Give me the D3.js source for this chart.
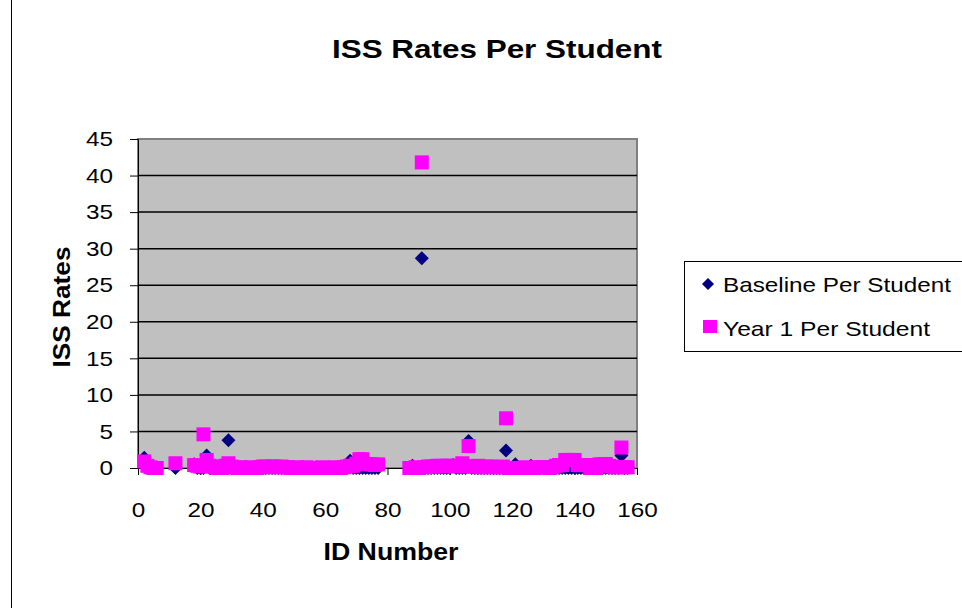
<!DOCTYPE html>
<html>
<head>
<meta charset="utf-8">
<script src="https://cdn.jsdelivr.net/npm/d3@7"></script>
<style>
  body { margin: 0; background: #fff; }
  text { font-family: Arial, "Liberation Sans", sans-serif; }
</style>
</head>
<body>
<div id="chart"></div>
<script>
// Student IDs (gaps where no students)
var ids = [2, 3, 4, 5, 6, 12,
  18, 19, 20, 21, 22, 23, 24, 25, 26, 27,
  28, 29, 30, 31, 32, 33, 34, 35, 36, 37,
  38, 39, 40, 41, 42, 43, 44, 45, 46, 47,
  48, 49, 50, 51, 52, 53, 54, 55, 56, 57,
  58, 59, 60, 61, 62, 63, 64, 65, 66, 67,
  68, 69, 70, 71, 72, 73, 74, 75, 76, 77,
  87, 88, 89, 90, 91, 92, 93, 94, 95, 96,
  97, 98, 99, 100, 101, 102, 103, 104, 105, 106,
  107, 108, 109, 110, 111, 112, 113, 114, 115, 116,
  117, 118, 119, 120, 121, 122, 123, 124, 125, 126,
  127, 128, 129, 130, 131, 132, 133, 134, 135, 136,
  137, 138, 139, 140, 141, 142, 143, 144, 145, 146,
  147, 148, 149, 150, 151, 152, 153, 154, 155, 156, 157];

var baseline = [1.4, 0, 0, 0, 0, 0,
  0.5, 0, 0, 0, 1.7, 0, 0, 0, 0, 0,
  0, 3.8, 0, 0, 0, 0, 0, 0, 0, 0,
  0, 0, 0, 0, 0, 0, 0, 0, 0, 0,
  0, 0, 0, 0, 0, 0, 0, 0, 0, 0,
  0, 0, 0, 0, 0, 0, 0, 0, 0, 0,
  1.0, 0, 0, 0, 0, 0, 0, 0, 0, 0,
  0, 0.3, 0, 0, 28.7, 0, 0, 0, 0, 0,
  0, 0, 0, 0, 0.4, 0, 0, 0, 0, 3.7,
  0, 0, 0, 0, 0, 0, 0, 0, 0, 0,
  0, 2.4, 0, 0, 0.5, 0, 0, 0, 0, 0.3,
  0, 0, 0, 0, 0, 0, 0, 0, 0, 0,
  0, 0, 0, 0, 0, 0, 0, 0, 0, 0,
  0, 0, 0, 0, 0, 0, 0, 0, 1.7, 0, 0];

var year1 = [0.9, 0.3, 0.1, 0, 0, 0.65,
  0.4, 0.3, 0.2, 4.6, 1.1, 0.3, 0.2, 0, 0.1, 0,
  0.3, 0.65, 0.2, 0.1, 0, 0.1, 0, 0, 0.1, 0,
  0, 0.1, 0.2, 0.2, 0.1, 0.2, 0.2, 0.1, 0.2, 0.1,
  0.1, 0, 0, 0.1, 0, 0, 0.1, 0, 0, 0,
  0, 0.1, 0, 0, 0, 0.1, 0, 0, 0.1, 0.2,
  0.3, 0.3, 0.6, 1.2, 1.2, 0.5, 0.55, 0.5, 0.4, 0.5,
  0, 0, 0.1, 0, 41.8, 0.1, 0.2, 0.2, 0.2, 0.3,
  0.3, 0.2, 0.3, 0.3, 0.3, 0.2, 0.3, 0.65, 0.2, 3.0,
  0.2, 0.2, 0.3, 0.1, 0.1, 0.2, 0.2, 0.1, 0.1, 0.1,
  0.2, 6.8, 0, 0, 0, 0, 0, 0.1, 0, 0,
  0, 0.1, 0.1, 0.1, 0.1, 0, 0.1, 0.3, 0.4, 0.4,
  1.1, 1.1, 1.1, 1.1, 0.4, 0.4, 0.4, 0.4, 0, 0,
  0, 0.5, 0.5, 0.55, 0.3, 0.2, 0.1, 0.1, 2.8, 0.1, 0.1];

var xTicks = [0, 20, 40, 60, 80, 100, 120, 140, 160];
var yTicks = [0, 5, 10, 15, 20, 25, 30, 35, 40, 45];
var seriesNames = ["Baseline Per Student", "Year 1 Per Student"];

var W = 962, H = 608;
var margin = {top: 139, left: 138, right: 325, bottom: 140};
var width = W - margin.left - margin.right;    // plot area
var height = H - margin.top - margin.bottom;

var svg = d3.select("#chart").append("svg")
  .attr("width", W)
  .attr("height", H);

// chart area left edge
svg.append("line")
  .attr("x1", 11.5).attr("x2", 11.5)
  .attr("y1", 0).attr("y2", H)
  .attr("stroke", "#000");

var g = svg.append("g")
  .attr("transform", "translate(" + margin.left + "," + margin.top + ")");

var x = d3.scaleLinear().domain([0, 160]).range([0, width]);
var y = d3.scaleLinear().domain([0, 45]).range([height, 0]);

// plot background
g.append("rect")
  .attr("x", 0).attr("y", 0)
  .attr("width", width).attr("height", height)
  .attr("fill", "#c0c0c0")
  .attr("stroke", "#808080")
  .attr("stroke-width", 2);

// gridlines
g.append("g")
  .selectAll("line")
  .data(yTicks.slice(1, -1))
  .enter().append("line")
  .attr("x1", 0).attr("x2", width)
  .attr("y1", d => y(d)).attr("y2", d => y(d))
  .attr("stroke", "#000")
  .attr("stroke-width", 1.5);

// axes
var leftAxis = d3.axisLeft(y).tickValues(yTicks).tickSize(8).tickPadding(17);
var bottomAxis = d3.axisBottom(x).tickValues(xTicks).tickSize(7).tickPadding(27);

var gy = g.append("g").call(leftAxis);
var gx = g.append("g").attr("transform", "translate(0," + height + ")").call(bottomAxis);

[gy, gx].forEach(function(a) {
  a.select(".domain").attr("stroke", "#000");
  a.selectAll(".tick line").attr("stroke", "#000");
  a.selectAll(".tick text")
    .attr("fill", "#000")
    .style("font-size", "21px")
    .attr("textLength", function(d) { return String(d).length * 13.5; })
    .attr("lengthAdjust", "spacingAndGlyphs");
});

var pts = ids.map(function(id, i) {
  return {id: id, base: baseline[i], y1: year1[i]};
});

function diamond(cx, cy, r) {
  return "M" + cx + "," + (cy - r) + "L" + (cx + r) + "," + cy +
         "L" + cx + "," + (cy + r) + "L" + (cx - r) + "," + cy + "Z";
}

// Baseline series (drawn first)
g.append("g")
  .selectAll("path")
  .data(pts)
  .enter().append("path")
  .attr("d", d => diamond(x(d.id), y(d.base), 7))
  .attr("fill", "#000080");

// Year 1 series
g.append("g")
  .selectAll("rect")
  .data(pts)
  .enter().append("rect")
  .attr("x", d => x(d.id) - 7)
  .attr("y", d => y(d.y1) - 7)
  .attr("width", 14).attr("height", 14)
  .attr("fill", "#ff00ff");

// Titles
svg.append("text")
  .attr("x", 497).attr("y", 58)
  .attr("text-anchor", "middle")
  .attr("textLength", 330).attr("lengthAdjust", "spacingAndGlyphs")
  .style("font-size", "25px").style("font-weight", "bold")
  .text("ISS Rates Per Student");

svg.append("text")
  .attr("x", 391).attr("y", 560)
  .attr("text-anchor", "middle")
  .attr("textLength", 135).attr("lengthAdjust", "spacingAndGlyphs")
  .style("font-size", "23px").style("font-weight", "bold")
  .text("ID Number");

svg.append("text")
  .attr("transform", "translate(70,307) rotate(-90)")
  .attr("text-anchor", "middle")
  .attr("textLength", 121).attr("lengthAdjust", "spacingAndGlyphs")
  .style("font-size", "24px").style("font-weight", "bold")
  .text("ISS Rates");

// Legend
var legend = svg.append("g").attr("transform", "translate(684,261)");
legend.append("rect")
  .attr("x", 0.5).attr("y", 0.5)
  .attr("width", 300).attr("height", 90)
  .attr("fill", "#fff")
  .attr("stroke", "#000");

legend.append("path")
  .attr("d", diamond(24, 23, 6))
  .attr("fill", "#000080");
legend.append("rect")
  .attr("x", 19).attr("y", 59)
  .attr("width", 14).attr("height", 13)
  .attr("fill", "#ff00ff");

legend.selectAll("text.lbl")
  .data(seriesNames)
  .enter().append("text")
  .attr("class", "lbl")
  .attr("x", 39)
  .attr("y", (d, i) => 31 + i * 44)
  .attr("textLength", (d, i) => i === 0 ? 228 : 207)
  .attr("lengthAdjust", "spacingAndGlyphs")
  .style("font-size", "21px")
  .text(d => d);
</script>
</body>
</html>
